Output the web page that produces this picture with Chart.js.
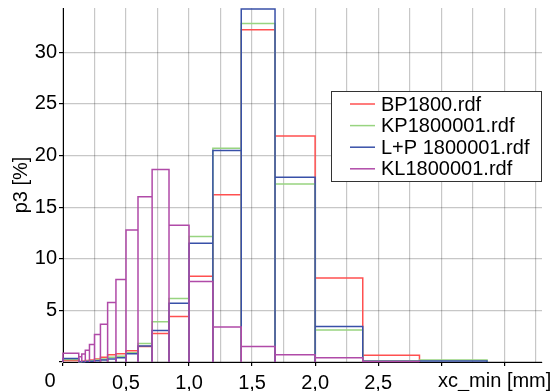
<!DOCTYPE html>
<html>
<head>
<meta charset="utf-8">
<script src="https://cdn.jsdelivr.net/npm/chart.js@4.4.0/dist/chart.umd.min.js"></script>
<style>
  html, body { margin: 0; padding: 0; background: #fff; }
  #wrap { width: 555px; height: 391px; }
</style>
</head>
<body>
<div id="wrap"><canvas id="chart1" width="555" height="391"></canvas></div>
<script>
// bin edges of xc_min [mm]
const edges = [0, 0.125, 0.149, 0.177, 0.21, 0.25, 0.297, 0.354, 0.42, 0.5, 0.595, 0.707, 0.841,
  1.0, 1.189, 1.414, 1.682, 2.0, 2.378, 2.828, 3.364];

// p3 [%] per bin
const bp1800 = [0.15, 0.05, 0.1, 0.15, 0.2, 0.3, 0.45, 0.7, 0.8, 1.1, 1.5, 2.75, 4.4,
  8.3, 16.2, 32.2, 21.9, 8.15, 0.65, null];
const kp1800001 = [0.25, 0.02, 0.05, 0.08, 0.12, 0.2, 0.3, 0.45, 0.55, 0.9, 1.8, 3.9, 6.15,
  12.15, 20.7, 32.8, 17.25, 3.1, 0.12, 0.2];
const lp1800001 = [0.35, 0.02, 0.03, 0.05, 0.08, 0.12, 0.2, 0.3, 0.4, 0.8, 1.55, 3.05, 5.7,
  11.5, 20.5, 34.2, 17.9, 3.45, 0.08, 0.1];
const kl1800001 = [0.85, 0.5, 0.78, 1.15, 1.7, 2.67, 3.65, 5.77, 8.0, 12.8, 16.0, 18.65, 13.25,
  7.8, 3.4, 1.5, 0.7, 0.4, 0.05, null];

const labels = ['BP1800.rdf', 'KP1800001.rdf', 'L+P 1800001.rdf', 'KL1800001.rdf'];
const colors = ['#ff5050', '#98d480', '#3850a8', '#b04aa8'];

// one rectangle per bin
function outline(vals) {
  var pts = [];
  vals.forEach((v, i) => {
    if (v === null) return;
    pts.push({x: edges[i], y: 0}, {x: edges[i], y: v}, {x: edges[i + 1], y: v}, {x: edges[i + 1], y: 0});
  });
  return pts;
}

const series = [bp1800, kp1800001, lp1800001, kl1800001];
const datasets = series.map((s, i) => ({
  label: labels[i],
  data: outline(s),
  borderColor: colors[i],
  borderWidth: 1.5,
  pointRadius: 0,
  fill: false,
  tension: 0,
  order: 3 - i,
  clip: 4
}));

const font = {family: 'Arial, "Liberation Sans", sans-serif', size: 20};

const extras = {
  id: 'extras',
  afterDraw(chart) {
    const ctx = chart.ctx;
    const xs = chart.scales.x;
    ctx.save();
    ctx.font = '20px Arial, "Liberation Sans", sans-serif';
    ctx.fillStyle = '#000';
    ctx.textBaseline = 'top';
    ctx.textAlign = 'center';
    ctx.fillText('0', 50, xs.top + 9);
    ctx.textAlign = 'left';
    ctx.fillText('xc_min [mm]', 438, xs.top + 9);

    // legend box
    const bx = 331, by = 91, bw = 210, bh = 90;
    ctx.fillStyle = '#fff';
    ctx.fillRect(bx, by, bw, bh);
    ctx.strokeStyle = '#333';
    ctx.lineWidth = 1;
    ctx.strokeRect(bx + 0.5, by + 0.5, bw, bh);
    ctx.textBaseline = 'middle';
    labels.forEach((l, i) => {
      const y = 104 + i * 21.6;
      ctx.strokeStyle = colors[i];
      ctx.lineWidth = 1.5;
      ctx.beginPath();
      ctx.moveTo(350, y);
      ctx.lineTo(375, y);
      ctx.stroke();
      ctx.fillStyle = '#000';
      ctx.fillText(l, 381, y + 1);
    });
    ctx.restore();
  }
};

new Chart(document.getElementById('chart1'), {
  type: 'line',
  data: {datasets: datasets},
  options: {
    responsive: false,
    animation: false,
    devicePixelRatio: 1,
    layout: {padding: {top: 8, right: 13, left: 0, bottom: 0}},
    plugins: {legend: {display: false}, tooltip: {enabled: false}},
    scales: {
      x: {
        type: 'linear',
        min: 0,
        max: 3.8,
        afterFit: s => { s.height = 29; s.paddingLeft = 0; s.paddingRight = 0; },
        ticks: {
          stepSize: 0.25,
          includeBounds: false,
          autoSkip: false,
          maxRotation: 0,
          padding: 5,
          color: '#000',
          font: font,
          callback: v => {
            if (v === 0 || v > 2.6) return '';
            if (Math.abs(v * 2 - Math.round(v * 2)) > 1e-6) return '';
            return v.toFixed(1).replace('.', ',');
          }
        },
        grid: {
          color: 'rgba(0,0,0,0.22)',
          lineWidth: 1.2,
          tickLength: 4,
          tickColor: c => (Math.abs(c.tick.value * 2 - Math.round(c.tick.value * 2)) < 1e-6) ? '#000' : 'rgba(0,0,0,0)'
        },
        border: {color: '#000', width: 1}
      },
      y: {
        min: 0,
        max: 34.3,
        afterFit: s => { s.width = 63; s.paddingTop = 0; s.paddingBottom = 0; },
        ticks: {
          stepSize: 5,
          includeBounds: false,
          padding: 2,
          color: '#000',
          font: font,
          callback: v => v === 0 ? '' : v
        },
        grid: {color: 'rgba(0,0,0,0.22)', lineWidth: 1.2, tickLength: 4, tickColor: '#000'},
        border: {color: '#000', width: 1},
        title: {display: true, text: 'p3 [%]', color: '#000', font: font, padding: {top: 9, bottom: 0}}
      }
    }
  },
  plugins: [extras]
});
</script>
</body>
</html>
